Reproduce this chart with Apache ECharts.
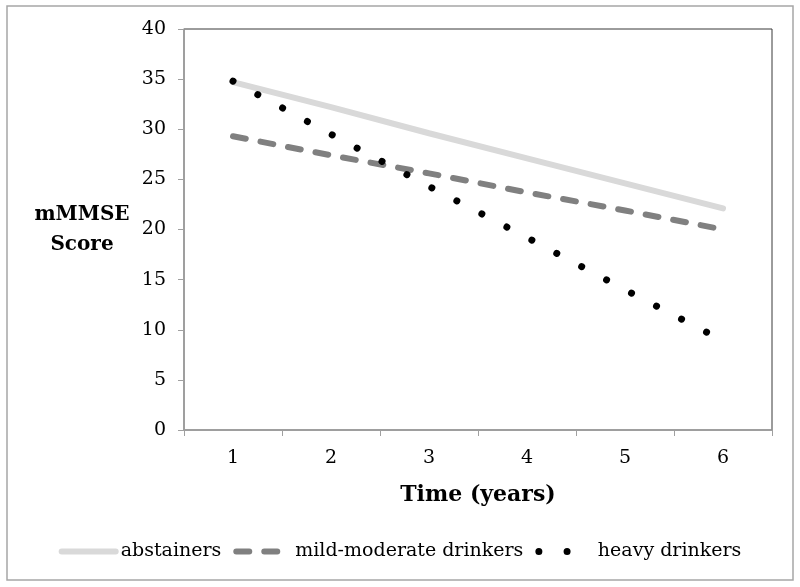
<!DOCTYPE html>
<html>
<head>
<meta charset="utf-8">
<script src="https://cdn.jsdelivr.net/npm/echarts@6/dist/echarts.min.js"></script>
<style>html,body{margin:0;padding:0;background:#fff;}#c{width:800px;height:587px;}</style>
</head>
<body>
<div id="c"></div>
<script>
var categories = ['1', '2', '3', '4', '5', '6'];
var abstainers = [34.7, 32.2, 29.6, 27.1, 24.6, 22.1];
var mildModerate = [29.3, 27.4, 25.6, 23.7, 21.9, 20.0];
var heavy = [34.8, 29.5, 24.3, 19.2, 14.0, 8.9];
var yTicks = {min: 0, max: 40, interval: 5};

var FONT = 'DejaVu Serif';
var chart = echarts.init(document.getElementById('c'), null, {renderer: 'canvas'});
chart.setOption({
  animation: false,
  backgroundColor: '#fff',
  textStyle: {fontFamily: FONT},
  graphic: [{
    type: 'rect', shape: {x: 7, y: 6, width: 786, height: 574},
    style: {fill: 'none', stroke: '#a6a6a6', lineWidth: 1.5}, silent: true
  }],
  grid: {left: 184, top: 29, right: 28, bottom: 157, show: true, borderColor: '#383838', borderWidth: 1},
  xAxis: {
    type: 'category', data: categories, boundaryGap: true,
    name: 'Time (years)', nameLocation: 'middle', nameGap: 54,
    nameTextStyle: {fontFamily: FONT, fontWeight: 'bold', fontSize: 22, color: '#000'},
    axisLine: {lineStyle: {color: '#a0a0a0', width: 1.5}},
    axisTick: {show: true, length: 6, inside: false, lineStyle: {color: '#a0a0a0'}},
    axisLabel: {fontFamily: FONT, fontSize: 19, color: '#000', margin: 19},
    splitLine: {show: false}
  },
  yAxis: {
    type: 'value', min: yTicks.min, max: yTicks.max, interval: yTicks.interval,
    name: 'mMMSE\nScore', nameLocation: 'middle', nameRotate: 0, nameGap: 102,
    nameTextStyle: {fontFamily: FONT, fontWeight: 'bold', fontSize: 20, color: '#000', align: 'center', verticalAlign: 'middle', lineHeight: 30},
    axisLine: {show: true, lineStyle: {color: '#a0a0a0', width: 1.5}},
    axisTick: {show: true, length: 6, lineStyle: {color: '#a0a0a0'}},
    axisLabel: {fontFamily: FONT, fontSize: 19, color: '#000', margin: 18},
    splitLine: {show: false}
  },
  legend: {
    bottom: 21, left: 'center', itemWidth: 54, itemHeight: 10, itemGap: 12,
    textStyle: {fontFamily: FONT, fontSize: 19, color: '#000'},
    itemStyle: {opacity: 0},
    data: [
      {name: 'abstainers', lineStyle: {width: 6}},
      {name: 'mild-moderate drinkers', lineStyle: {width: 6}},
      {name: 'heavy drinkers', lineStyle: {width: 7}}
    ]
  },
  series: [
    {name: 'abstainers', type: 'line', data: abstainers, symbol: 'none', showSymbol: false,
     lineStyle: {color: '#d9d9d9', width: 6, cap: 'round'}, itemStyle: {color: '#d9d9d9'}, z: 2},
    {name: 'mild-moderate drinkers', type: 'line', data: mildModerate, symbol: 'none', showSymbol: false,
     lineStyle: {color: '#808080', width: 6, cap: 'round', type: [13, 15]}, itemStyle: {color: '#808080'}, z: 3},
    {name: 'heavy drinkers', type: 'line', data: heavy, symbol: 'none', showSymbol: false,
     lineStyle: {color: '#000', width: 7, cap: 'round', type: [0.01, 28.2]}, itemStyle: {color: '#000'}, z: 4}
  ]
});
</script>
</body>
</html>
